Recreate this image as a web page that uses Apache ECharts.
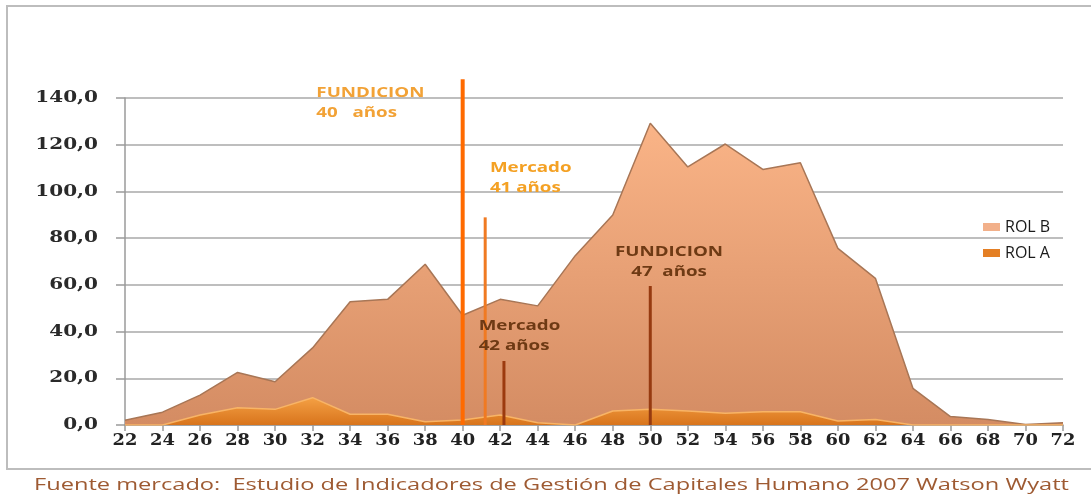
<!DOCTYPE html>
<html><head><meta charset="utf-8">
<script src="https://cdn.jsdelivr.net/npm/echarts@6/dist/echarts.min.js"></script>
<style>html,body{margin:0;padding:0;background:#fff}#c{width:1091px;height:497px}</style>
</head><body><div id="c"></div>
<script>
// ---- data ----
const ages = [22,24,26,28,30,32,34,36,38,40,42,44,46,48,50,52,54,56,58,60,62,64,66,68,70,72];
const rolB = [2,5.5,12.8,22.5,18.5,33,52.8,53.8,68.8,47,53.8,51,72.5,89.9,129.2,110.5,120.3,109.4,112.3,75.6,62.8,15.7,3.6,2.4,0.2,1.0];
const rolA = [0,0,4.3,7.4,6.7,11.7,4.6,4.6,1.4,2.1,4.3,1.0,0,6.0,6.7,6.0,5.0,5.7,5.7,1.7,2.4,0,0,0,0,0];
const xTickValues = [22,24,26,28,30,32,34,36,38,40,42,44,46,48,50,52,54,56,58,60,62,64,66,68,70,72];
const yTickValues = [0,20,40,60,80,100,120,140];
const yTickLabels = ['0,0','20,0','40,0','60,0','80,0','100,0','120,0','140,0'];
const markerAges = [40, 41.2, 42.2, 50];
const markerTops = [148, 88.9, 27.4, 59.5];
const markerColors = ['#FF6A00','#F07A22','#9C3A0E','#963A10'];
const markerWidths = [4, 3, 3, 3];
const noteTexts = ['FUNDICION\n40   años','Mercado\n41 años','Mercado\n42 años','FUNDICION\n47  años'];
const noteAges = [32.2, 41.45, 40.85, 51.0];
const noteValues = [146.4, 114.6, 46.9, 78.3];
const noteColors = ['#F2A236','#F4A124','#6E3A14','#6E3A14'];
const noteAlign = ['left','left','left','center'];
const caption = 'Fuente mercado:  Estudio de Indicadores de Gestión de Capitales Humano 2007 Watson Wyatt';

const SERIF = 'DejaVu Serif';
const SANS = 'Open Sans';

const chart = echarts.init(document.getElementById('c'), null, {renderer:'canvas'});
const pairs = (xs, ys) => xs.map((x,i)=>[x, ys[i]]);

const series = [
  {
    name:'ROL B', type:'line', data: pairs(ages, rolB), symbol:'none', z:2,
    itemStyle:{color:'#F2B08A'},
    lineStyle:{color:'#A87656', width:1.5},
    areaStyle:{opacity:1, color:new echarts.graphic.LinearGradient(0,0,0,1,[
      {offset:0,color:'#FAB487'},{offset:1,color:'#D48C63'}])}
  },
  {
    name:'ROL A', type:'line', data: pairs(ages, rolA), symbol:'none', z:3,
    itemStyle:{color:'#E47F24'},
    lineStyle:{color:'#F8B466', width:1.5},
    areaStyle:{opacity:1, color:new echarts.graphic.LinearGradient(0,0,0,1,[
      {offset:0,color:'#F4A044'},{offset:1,color:'#D8741C'}])}
  }
];
markerAges.forEach((a,i)=>{
  series.push({
    name:'m'+i, type:'line', data:[[a,0],[a,markerTops[i]]], symbol:'none', clip:false, z:5, silent:true,
    lineStyle:{color:markerColors[i], width:markerWidths[i]}
  });
});

chart.setOption({
  animation:false,
  grid:{left:125, right:28, top:98, bottom:72, containLabel:false},
  legend:{
    data:['ROL B','ROL A'], orient:'vertical', left:978, top:214,
    itemWidth:17, itemHeight:8, itemGap:10, icon:'rect',
    textStyle:{fontFamily:SANS, fontSize:16, color:'#1a1a1a'}
  },
  xAxis:{
    type:'value', min:22, max:72, interval:2,
    axisLine:{show:true, lineStyle:{color:'#9a9a9a', width:1.5}},
    axisTick:{show:true, length:6, lineStyle:{color:'#9a9a9a', width:1.5}},
    splitLine:{show:false},
    axisLabel:{show:false}
  },
  yAxis:{
    type:'value', min:0, max:140, interval:20,
    axisLine:{show:true, lineStyle:{color:'#9a9a9a', width:1.5}},
    axisTick:{show:true, length:9, lineStyle:{color:'#9a9a9a', width:1.5}},
    splitLine:{show:true, lineStyle:{color:'#a8a8a8', width:1.5}},
    axisLabel:{show:false}
  },
  series
});

// ---- tick labels, annotations & frame ----
const ctx = document.createElement('canvas').getContext('2d');
ctx.font = '16px "Open Sans"';
const capW = ctx.measureText(caption).width;
const graphics = [
  {type:'rect', shape:{x:7, y:6, width:1100, height:463}, style:{fill:null, stroke:'#bdbdbd', lineWidth:2}, silent:true, z:0},
  {type:'text', x:34, y:485, scaleX:1035/capW, silent:true,
   style:{text:caption, fontFamily:SANS, fontSize:16, fill:'#9E5A32', textAlign:'left', textVerticalAlign:'middle'}}
];
xTickValues.forEach(v=>{
  const p = chart.convertToPixel({gridIndex:0}, [v, 0]);
  graphics.push({type:'text', x:p[0], y:p[1]+16, scaleX:1.05, silent:true,
    style:{text:String(v), fontFamily:SERIF, fontWeight:'bold', fontSize:17, fill:'#222',
      textAlign:'center', textVerticalAlign:'middle'}});
});
yTickValues.forEach((v,i)=>{
  const p = chart.convertToPixel({gridIndex:0}, [22, v]);
  graphics.push({type:'text', x:p[0]-27, y:p[1], scaleX:1.25, silent:true,
    style:{text:yTickLabels[i], fontFamily:SERIF, fontWeight:'bold', fontSize:16, fill:'#2a2a2a',
      textAlign:'right', textVerticalAlign:'middle'}});
});
noteTexts.forEach((t,i)=>{
  const p = chart.convertToPixel({gridIndex:0}, [noteAges[i], noteValues[i]]);
  graphics.push({type:'text', x:p[0], y:p[1], scaleX:1.25, silent:true, z:10,
    style:{text:t, fontFamily:SANS, fontWeight:'bold', fontSize:15, lineHeight:20,
      fill:noteColors[i], textAlign:noteAlign[i], textVerticalAlign:'top'}});
});
chart.setOption({graphic:graphics});
</script></body></html>
